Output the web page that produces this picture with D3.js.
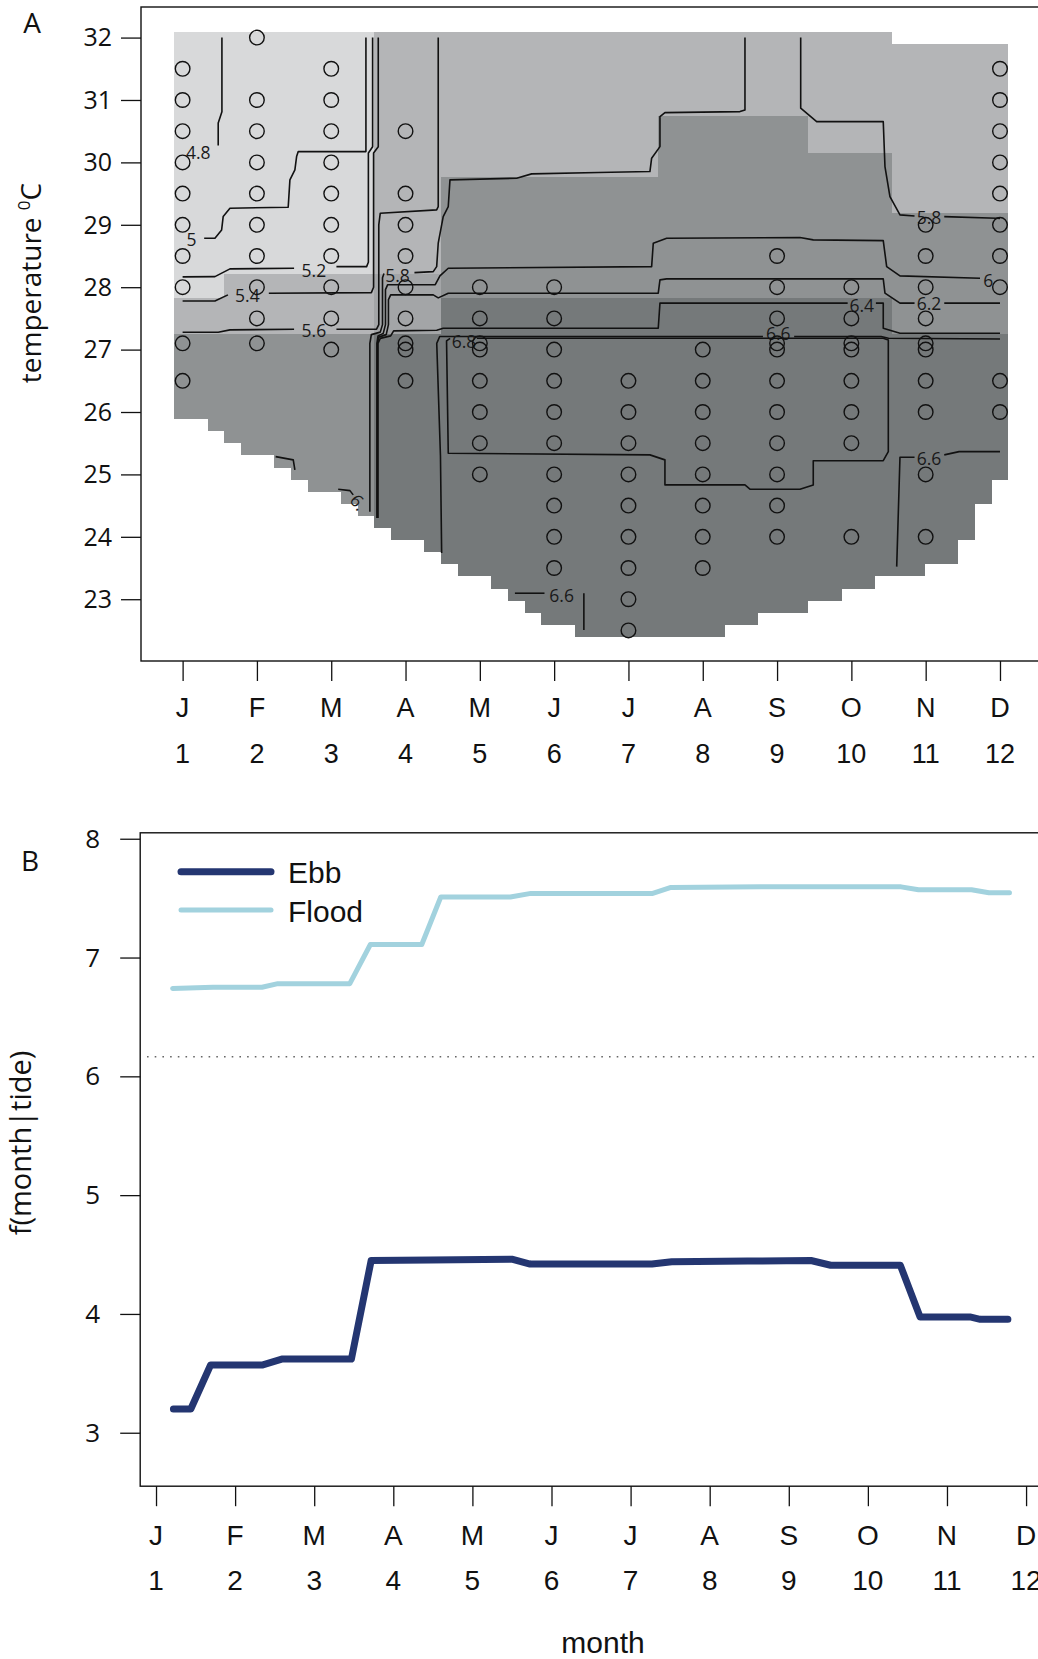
<!DOCTYPE html>
<html>
<head>
<meta charset="utf-8">
<script src="https://cdn.jsdelivr.net/npm/d3@7"></script>
<style>
  body { margin: 0; background: #fff; }
  text { fill: #111; }
</style>
</head>
<body>
<svg id="fig" width="1038" height="1659"></svg>
<script>
// ------------------------------------------------------------------
// Panel A: fitted surface over month x water temperature
// ------------------------------------------------------------------
const monthLetters = ["J", "F", "M", "A", "M", "J", "J", "A", "S", "O", "N", "D"];
const monthNumbers = [1, 2, 3, 4, 5, 6, 7, 8, 9, 10, 11, 12];
const tempTicks = [23, 24, 25, 26, 27, 28, 29, 30, 31, 32];

// prediction grid: 50 x 50 cells, months 1..12, temperature 22.5..32
const gridMonthRange = [1, 12];
const gridTempRange = [22.5, 32];
const gridSize = 50;

// shading class of every grid cell, run-length coded ("class*count"),
// first entry = warmest row (32 C), last entry = coolest row (22.5 C); "." = no prediction
const surfaceRows = [
  "1*12 2*31 .*7",
  "1*12 2*38", "1*12 2*38", "1*12 2*38", "1*12 2*38", "1*12 2*38", "1*12 2*38",
  "1*12 2*17 4*9 2*12", "1*12 2*17 4*9 2*12", "1*12 2*17 4*9 2*12",
  "1*12 2*17 4*14 2*7", "1*12 2*17 4*14 2*7",
  "1*12 2*4 4*27 2*7", "1*12 2*4 4*27 2*7", "1*12 2*4 4*27 2*7",
  "1*12 2*4 4*34", "1*12 2*4 4*34", "1*12 2*4 4*34", "1*12 2*4 4*34", "1*12 2*4 4*34",
  "1*3 2*9 3*4 4*34", "1*3 2*9 3*4 4*34",
  "2*12 3*4 5*27 4*7", "2*12 3*4 5*27 4*7", "2*12 3*4 5*27 4*7",
  "4*12 5*38", "4*12 5*38", "4*12 5*38", "4*12 5*38", "4*12 5*38", "4*12 5*38", "4*12 5*38",
  ".*2 4*10 5*38",
  ".*3 4*9 5*38",
  ".*4 4*8 5*38",
  ".*6 4*6 5*38",
  ".*7 4*5 5*38",
  ".*8 4*4 5*37 .*1",
  ".*10 4*2 5*37 .*1",
  ".*11 4*1 5*36 .*2",
  ".*12 5*36 .*2",
  ".*13 5*35 .*2",
  ".*15 5*32 .*3",
  ".*16 5*31 .*3",
  ".*17 5*28 .*5",
  ".*19 5*23 .*8",
  ".*20 5*20 .*10",
  ".*21 5*17 .*12",
  ".*22 5*13 .*15",
  ".*24 5*9 .*17"
];
const surfaceGreys = { "1": "#d8d9da", "2": "#b4b5b7", "3": "#a3a5a7", "4": "#8f9293", "5": "#75797a" };

// observed month / temperature combinations
const obsMonth = [1, 2, 3, 4, 5, 6, 7, 8, 9, 10, 11, 12];
const obsTemps = [
  [31.5, 31, 30.5, 30, 29.5, 29, 28.5, 28, 27.1, 26.5],
  [32, 31, 30.5, 30, 29.5, 29, 28.5, 28, 27.5, 27.1],
  [31.5, 31, 30.5, 30, 29.5, 29, 28.5, 28, 27.5, 27],
  [30.5, 29.5, 29, 28.5, 28, 27.5, 27.1, 27, 26.5],
  [28, 27.5, 27.1, 27, 26.5, 26, 25.5, 25],
  [28, 27.5, 27, 26.5, 26, 25.5, 25, 24.5, 24, 23.5],
  [26.5, 26, 25.5, 25, 24.5, 24, 23.5, 23, 22.5],
  [27, 26.5, 26, 25.5, 25, 24.5, 24, 23.5],
  [28.5, 28, 27.5, 27.1, 27, 26.5, 26, 25.5, 25, 24.5, 24],
  [28, 27.5, 27.1, 27, 26.5, 26, 25.5, 24],
  [29, 28.5, 28, 27.5, 27.1, 27, 26.5, 26, 25, 24],
  [31.5, 31, 30.5, 30, 29.5, 29, 28.5, 28, 26.5, 26]
];

// contour lines of the surface: pieces in [month, temperature], labels [text, month, temperature, angle]
const contourLines = [
  { level: 4.8, pieces: [[[1.529, 32], [1.529, 30.81], [1.479, 30.63], [1.479, 30.27]]],
    labels: [["4.8", 1.21, 30.16, 0]] },
  { level: 5.0, pieces: [[[3.467, 32], [3.467, 30.173], [2.556, 30.173], [2.534, 30.093], [2.511, 29.88],
      [2.444, 29.72], [2.421, 29.282], [1.637, 29.266], [1.546, 29.131], [1.525, 28.918], [1.435, 28.785], [1.29, 28.785]]],
    labels: [["5", 1.121, 28.77, 0]] },
  { level: 5.2, pieces: [[[3.557, 32], [3.557, 30.25], [3.50, 30.15], [3.50, 28.40], [3.476, 28.33], [3.07, 28.33]],
      [[2.50, 28.304], [1.637, 28.293], [1.435, 28.17], [1.0, 28.165]]],
    labels: [["5.2", 2.767, 28.28, 0]] },
  { level: 5.4, pieces: [[[3.633, 32], [3.633, 30.25], [3.57, 30.15], [3.57, 28.0], [3.54, 27.913], [2.16, 27.904]],
      [[1.61, 27.877], [1.435, 27.78], [1.0, 27.78]]],
    labels: [["5.4", 1.872, 27.877, 0]] },
  { level: 5.6, pieces: [[[4.44, 32], [4.44, 29.292], [4.419, 29.239], [3.66, 29.186], [3.64, 29.0], [3.64, 27.40],
      [3.61, 27.327], [3.07, 27.327]],
      [[2.50, 27.327], [1.637, 27.316], [1.479, 27.279], [1.0, 27.279]]],
    labels: [["5.6", 2.767, 27.32, 0]] },
  { level: 5.8, pieces: [[[8.568, 32], [8.568, 30.841], [8.501, 30.814], [7.491, 30.798], [7.424, 30.734], [7.424, 30.253],
      [7.312, 30.067], [7.289, 29.853], [6.594, 29.837], [5.697, 29.816], [5.495, 29.747], [4.598, 29.72], [4.575, 29.292],
      [4.507, 29.131], [4.44, 28.705], [4.419, 28.33], [4.373, 28.25], [4.12, 28.234]],
      [[3.71, 28.22], [3.69, 28.15], [3.69, 27.40], [3.66, 27.28], [3.54, 27.24], [3.52, 27.1], [3.52, 24.40]]],
    labels: [["5.8", 3.891, 28.2, 0]] },
  { level: 5.8, pieces: [[[9.318, 32], [9.318, 30.869], [9.533, 30.654], [10.429, 30.654], [10.452, 29.933],
      [10.519, 29.452], [10.654, 29.159], [10.85, 29.14]],
      [[11.25, 29.131], [11.956, 29.106], [12.0, 29.1]]],
    labels: [["5.8", 11.044, 29.131, 0]] },
  { level: 5.8, pieces: [[[2.252, 25.285], [2.489, 25.233], [2.511, 25.072]]], labels: [] },
  { level: 6.0, pieces: [[[3.615, 24.30], [3.615, 27.1], [3.63, 27.22], [3.70, 27.26], [3.73, 27.40], [3.73, 27.96],
      [3.76, 28.04], [4.40, 28.04], [4.463, 28.181], [4.575, 28.304], [7.312, 28.33], [7.334, 28.705], [7.514, 28.785],
      [9.308, 28.795], [9.487, 28.758], [10.429, 28.747], [10.475, 28.33], [10.654, 28.181], [11.731, 28.144]]],
    labels: [["6", 11.843, 28.117, 0]] },
  { level: 6.0, pieces: [[[3.094, 24.763], [3.252, 24.74], [3.296, 24.672]]],
    labels: [["6.", 3.37, 24.56, 50]] },
  { level: 6.2, pieces: [[[3.622, 24.30], [3.622, 27.1], [3.64, 27.20], [3.74, 27.24], [3.77, 27.40], [3.77, 27.80],
      [3.80, 27.877], [4.373, 27.877], [4.44, 27.829], [4.575, 27.904], [7.401, 27.904], [7.424, 28.117],
      [7.514, 28.133], [10.429, 28.133], [10.452, 27.904], [10.654, 27.744], [10.85, 27.744]],
      [[11.25, 27.744], [12.0, 27.744]]],
    labels: [["6.2", 11.044, 27.744, 0]] },
  { level: 6.4, pieces: [[[3.629, 24.30], [3.629, 27.1], [3.66, 27.18], [3.80, 27.22], [3.84, 27.30], [4.42, 27.31],
      [4.507, 27.343], [7.401, 27.343], [7.424, 27.744], [7.514, 27.744], [9.95, 27.744]],
      [[10.33, 27.744], [10.429, 27.744], [10.429, 27.343], [10.654, 27.263], [12.0, 27.263]]],
    labels: [["6.4", 10.139, 27.716, 0]] },
  { level: 6.6, pieces: [[[4.486, 23.742], [4.47, 25.3], [4.42, 27.1], [4.46, 27.21], [8.81, 27.21]],
      [[9.23, 27.21], [10.4, 27.21], [10.5, 27.183], [12.0, 27.17]]],
    labels: [["6.6", 9.016, 27.263, 0]] },
  { level: 6.6, pieces: [[[10.61, 23.522], [10.654, 25.276], [10.85, 25.276]],
      [[11.25, 25.313], [11.45, 25.365], [12.0, 25.365]]],
    labels: [["6.6", 11.044, 25.26, 0]] },
  { level: 6.6, pieces: [[[5.472, 23.096], [5.87, 23.096]], [[6.40, 23.096], [6.40, 22.508]]],
    labels: [["6.6", 6.101, 23.069, 0]] },
  { level: 6.8, pieces: [[[4.96, 27.183], [10.43, 27.183], [10.497, 27.155], [10.497, 25.365], [10.429, 25.22], [9.487, 25.22],
      [9.487, 24.832], [9.308, 24.763], [8.635, 24.763], [8.568, 24.832], [7.491, 24.832], [7.491, 25.233], [7.289, 25.313],
      [4.575, 25.34], [4.552, 27.14], [4.60, 27.18]]],
    labels: [["6.8", 4.786, 27.14, 0]] }
];

// ------------------------------------------------------------------
// Panel B: partial effect of month for each tide state
// ------------------------------------------------------------------
const ebbMonth = [1.22, 1.44, 1.69, 2.34, 2.59, 3.47, 3.72, 4.47, 5.51, 5.73, 7.27, 7.52, 8.48, 9.28, 9.53, 10.41, 10.66, 11.29, 11.42, 11.77];
const ebbValue = [3.20, 3.20, 3.57, 3.57, 3.62, 3.62, 4.45, 4.455, 4.46, 4.42, 4.42, 4.44, 4.445, 4.45, 4.41, 4.41, 3.975, 3.975, 3.955, 3.955];
const floodMonth = [1.21, 1.72, 2.34, 2.54, 3.45, 3.71, 4.36, 4.60, 5.48, 5.74, 7.28, 7.51, 8.65, 10.42, 10.64, 11.31, 11.53, 11.79];
const floodValue = [6.74, 6.75, 6.75, 6.78, 6.78, 7.11, 7.11, 7.51, 7.51, 7.54, 7.54, 7.59, 7.595, 7.595, 7.57, 7.57, 7.545, 7.545];
const effectTicks = [3, 4, 5, 6, 7, 8];
const overallMean = 6.165;
const tideNames = ["Ebb", "Flood"];
const tideColours = ["#243671", "#a2d2de"];
const tideWidths = [7, 5];

// ------------------------------------------------------------------
const svg = d3.select("#fig");
const axisFont = "'Liberation Sans', Arial, sans-serif";
const labelFont = "'Open Sans', 'Noto Sans', sans-serif";

// ---------- Panel A ----------
const xA = d3.scaleLinear().domain([0.44, 12.56]).range([141, 1041.6]);
const yA = d3.scaleLinear().domain([22.01, 32.49]).range([661, 7]);
const gA = svg.append("g");

const mStep = (gridMonthRange[1] - gridMonthRange[0]) / (gridSize - 1);
const tStep = (gridTempRange[1] - gridTempRange[0]) / (gridSize - 1);

// shaded cells, one rect per run
const cellRuns = [];
surfaceRows.forEach((row, i) => {
  const r = gridSize - 1 - i;
  let c = 0;
  row.split(" ").forEach(tok => {
    const [cls, n] = tok.split("*");
    const count = +n;
    if (cls !== ".") cellRuns.push({ r, c0: c, c1: c + count - 1, cls });
    c += count;
  });
});
gA.append("g").attr("shape-rendering", "crispEdges")
  .selectAll("rect").data(cellRuns).join("rect")
  .attr("x", d => xA(gridMonthRange[0] + (d.c0 - 0.5) * mStep))
  .attr("width", d => xA(gridMonthRange[0] + (d.c1 + 0.5) * mStep) - xA(gridMonthRange[0] + (d.c0 - 0.5) * mStep))
  .attr("y", d => yA(gridTempRange[0] + (d.r + 0.5) * tStep))
  .attr("height", d => yA(gridTempRange[0] + (d.r - 0.5) * tStep) - yA(gridTempRange[0] + (d.r + 0.5) * tStep) + 0.5)
  .attr("fill", d => surfaceGreys[d.cls]);

// contour lines
const contourPath = d3.line().x(d => xA(d[0])).y(d => yA(d[1]));
const gC = gA.append("g");
contourLines.forEach(cl => {
  cl.pieces.forEach(p => {
    gC.append("path").attr("d", contourPath(p))
      .attr("fill", "none").attr("stroke", "#111").attr("stroke-width", 1.6)
      .attr("stroke-linejoin", "round");
  });
  cl.labels.forEach(([txt, m, t, ang]) => {
    gC.append("text").text(txt)
      .attr("transform", `translate(${xA(m)},${yA(t)}) rotate(${ang})`)
      .attr("text-anchor", "middle").attr("dominant-baseline", "central")
      .attr("font-family", labelFont).attr("font-size", 17.5).style("fill", "#1a1a1a");
  });
});

// observations
const obs = [];
obsMonth.forEach((m, i) => obsTemps[i].forEach(t => obs.push([m, t])));
gA.append("g").selectAll("circle").data(obs).join("circle")
  .attr("cx", d => xA(d[0])).attr("cy", d => yA(d[1])).attr("r", 7.3)
  .attr("fill", "none").attr("stroke", "#111").attr("stroke-width", 1.4);

// frame
gA.append("rect").attr("x", 141).attr("y", 7).attr("width", 1041.6 - 141).attr("height", 661 - 7)
  .attr("fill", "none").attr("stroke", "#111").attr("stroke-width", 1.4);

// axes
const axAx = gA.append("g").attr("transform", "translate(0,661)")
  .call(d3.axisBottom(xA).tickValues(monthNumbers).tickSize(20).tickFormat(() => ""));
const axAy = gA.append("g").attr("transform", "translate(141,0)")
  .call(d3.axisLeft(yA).tickValues(tempTicks).tickSize(20).tickFormat(() => ""));
[axAx, axAy].forEach(a => {
  a.select(".domain").remove();
  a.selectAll("line").attr("stroke", "#111").attr("stroke-width", 1.3);
});
gA.append("g").selectAll("text").data(monthNumbers).join("text")
  .attr("x", d => xA(d)).attr("y", 717).attr("text-anchor", "middle")
  .attr("font-family", axisFont).attr("font-size", 27).text((d, i) => monthLetters[i]);
gA.append("g").selectAll("text").data(monthNumbers).join("text")
  .attr("x", d => xA(d)).attr("y", 763).attr("text-anchor", "middle")
  .attr("font-family", axisFont).attr("font-size", 27).text(d => d);
gA.append("g").selectAll("text").data(tempTicks).join("text")
  .attr("x", 112).attr("y", d => yA(d)).attr("dy", "0.35em").attr("text-anchor", "end")
  .attr("font-family", labelFont).attr("font-size", 25).text(d => d);
const tLab = gA.append("text")
  .attr("transform", "translate(41,283) rotate(-90)").attr("text-anchor", "middle")
  .attr("font-family", labelFont).attr("font-size", 28);
tLab.append("tspan").text("temperature ");
tLab.append("tspan").attr("font-size", 17).attr("dy", -11).text("0");
tLab.append("tspan").attr("dy", 11).text("C");
gA.append("text").attr("x", 32).attr("y", 33).attr("text-anchor", "middle")
  .attr("font-family", labelFont).attr("font-size", 28).text("A");

// ---------- Panel B ----------
const xB = d3.scaleLinear().domain([0.80, 12.19]).range([140.2, 1041.1]);
const yB = d3.scaleLinear().domain([2.55, 8.05]).range([1486.2, 832.8]);
const gB = svg.append("g");

gB.append("line").attr("x1", 147).attr("x2", 1041).attr("y1", yB(overallMean)).attr("y2", yB(overallMean))
  .attr("stroke", "#666").attr("stroke-width", 1.6).attr("stroke-dasharray", "1.6,6.1");

const seriesLine = d3.line().x(d => xB(d[0])).y(d => yB(d[1]));
const tideSeries = [
  d3.zip(ebbMonth, ebbValue),
  d3.zip(floodMonth, floodValue)
];
tideSeries.forEach((s, i) => {
  gB.append("path").attr("d", seriesLine(s)).attr("fill", "none")
    .attr("stroke", tideColours[i]).attr("stroke-width", tideWidths[i])
    .attr("stroke-linejoin", "round").attr("stroke-linecap", "round");
});

gB.append("rect").attr("x", 140.2).attr("y", 832.8).attr("width", 1041.1 - 140.2).attr("height", 1486.2 - 832.8)
  .attr("fill", "none").attr("stroke", "#111").attr("stroke-width", 1.4);

const axBx = gB.append("g").attr("transform", "translate(0,1486.2)")
  .call(d3.axisBottom(xB).tickValues(monthNumbers).tickSize(20).tickFormat(() => ""));
const axBy = gB.append("g").attr("transform", "translate(140.2,0)")
  .call(d3.axisLeft(yB).tickValues(effectTicks).tickSize(20).tickFormat(() => ""));
[axBx, axBy].forEach(a => {
  a.select(".domain").remove();
  a.selectAll("line").attr("stroke", "#111").attr("stroke-width", 1.3);
});
gB.append("g").selectAll("text").data(monthNumbers).join("text")
  .attr("x", d => xB(d)).attr("y", 1545).attr("text-anchor", "middle")
  .attr("font-family", axisFont).attr("font-size", 28).text((d, i) => monthLetters[i]);
gB.append("g").selectAll("text").data(monthNumbers).join("text")
  .attr("x", d => xB(d)).attr("y", 1590).attr("text-anchor", "middle")
  .attr("font-family", axisFont).attr("font-size", 28).text(d => d);
gB.append("g").selectAll("text").data(effectTicks).join("text")
  .attr("x", 100).attr("y", d => yB(d)).attr("dy", "0.35em").attr("text-anchor", "end")
  .attr("font-family", labelFont).attr("font-size", 26).text(d => d);
gB.append("text").attr("transform", "translate(31,1143) rotate(-90)").attr("text-anchor", "middle")
  .attr("font-family", labelFont).attr("font-size", 29).text("f(month|tide)");
gB.append("text").attr("x", 603).attr("y", 1653).attr("text-anchor", "middle")
  .attr("font-family", axisFont).attr("font-size", 30).text("month");
gB.append("text").attr("x", 30).attr("y", 871).attr("text-anchor", "middle")
  .attr("font-family", labelFont).attr("font-size", 28).text("B");

// legend
const lg = gB.append("g");
tideNames.forEach((name, i) => {
  const y = [871.7, 910][i];
  lg.append("line").attr("x1", 181).attr("x2", 271).attr("y1", y).attr("y2", y)
    .attr("stroke", tideColours[i]).attr("stroke-width", tideWidths[i]).attr("stroke-linecap", "round");
  lg.append("text").attr("x", 288).attr("y", y + 11.5)
    .attr("font-family", axisFont).attr("font-size", 30).text(name);
});
</script>
</body>
</html>
